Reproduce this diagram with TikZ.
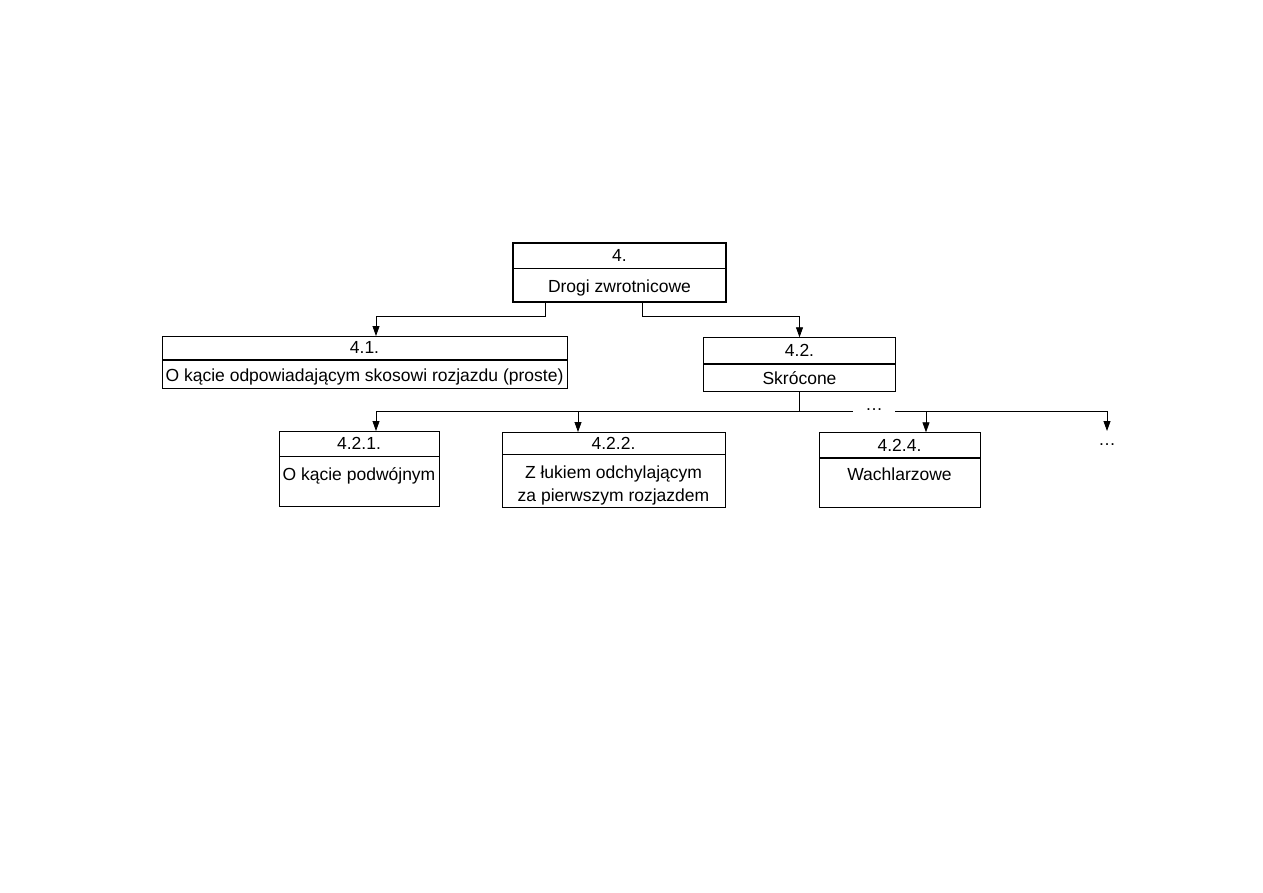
\documentclass[tikz,border=0pt]{standalone}
\usepackage{fontspec}
\setmainfont{Liberation Sans}
\usetikzlibrary{arrows.meta,positioning}

\begin{document}
\begin{tikzpicture}[x=1pt,y=-1pt,font=\fontsize{17.5pt}{23pt}\selectfont,>={Triangle[length=10pt,width=7pt]},
  line width=0.8pt,
  hd/.style={draw,inner sep=0pt,anchor=north},
  bd/.style={draw,inner sep=0pt},
  lbl/.style={inner sep=0pt,align=center},
  node distance=0pt]
\useasboundingbox (0,0) rectangle (1263,893);
% poziom 4
\node[hd,minimum width=213pt,minimum height=25pt] (n4h) at (619.5,242.7) {4.};
\node[bd,below=of n4h,minimum width=213pt,minimum height=32.3pt] (n4) {};
\node[lbl,below=11pt of n4h.south] (t4) {Drogi zwrotnicowe};
\draw[line width=2pt] (n4h.north west) rectangle (n4.south east);
% poziom 4.1 / 4.2
\node[hd,minimum width=405pt,minimum height=23pt] (n41h) at (364.5,336) {4.1.};
\node[bd,below=of n41h,minimum width=405pt,minimum height=28pt] (n41) {};
\node[lbl,below=9pt of n41h.south] (t41) {O kącie odpowiadającym skosowi rozjazdu (proste)};
\node[hd,minimum width=192pt,minimum height=26pt] (n42h) at (799.5,337.3) {4.2.};
\node[bd,below=of n42h,minimum width=192pt,minimum height=26.7pt] (n42) {};
\node[lbl,below=7pt of n42h.south] (t42) {Skrócone};
% poziom 4.2.x
\node[hd,minimum width=160pt,minimum height=24.5pt] (n421h) at (359,431) {4.2.1.};
\node[bd,below=of n421h,minimum width=160pt,minimum height=50pt] (n421) {};
\node[lbl,below=11pt of n421h.south] (t421) {O kącie podwójnym};
\node[hd,minimum width=223pt,minimum height=21.5pt] (n422h) at (613.5,432) {4.2.2.};
\node[bd,below=of n422h,minimum width=223pt,minimum height=52.5pt] (n422) {};
\node[lbl,below=11.5pt of n422h.south] (t422) {Z łukiem odchylającym\\za pierwszym rozjazdem};
\node[hd,minimum width=161pt,minimum height=25pt] (n424h) at (899.5,432.3) {4.2.4.};
\node[bd,below=of n424h,minimum width=161pt,minimum height=48.7pt] (n424) {};
\node[lbl,below=9.7pt of n424h.south] (t424) {Wachlarzowe};
\node[lbl,anchor=base,minimum width=42pt] (dots1) at (874,410) {\dots};
\node[lbl,anchor=north,text height=14pt] (more) at (1107,431) {\dots};
% polaczenia
\draw[->] ([xshift=33pt]n4.south west) -- ++(0,15) -| ([xshift=11.5pt]n41h.north);
\draw[->] ([xshift=-84pt]n4.south east) -- ++(0,15) -| (n42h.north);
\draw (n42.south) -- ++(0,20) coordinate (bus);
\draw[->] (bus) -| ([xshift=17pt]n421h.north);
\draw[->] ([xshift=-35.5pt]n422h.north |- bus) -- ([xshift=-35.5pt]n422h.north);
\draw (bus) -- (bus -| dots1.west);
\draw[->] (bus -| dots1.east) -| (more.north);
\draw[->] ([xshift=26.5pt]n424h.north |- bus) -- ([xshift=26.5pt]n424h.north);
\end{tikzpicture}
\end{document}
